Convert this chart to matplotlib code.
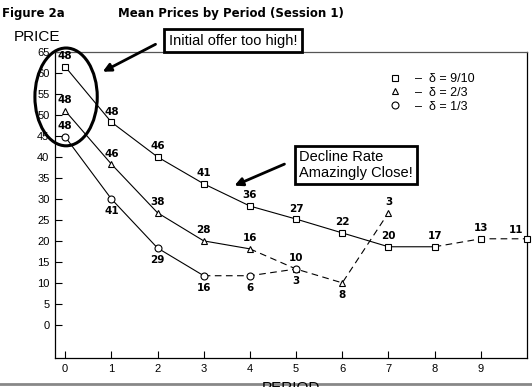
import matplotlib.pyplot as plt
from matplotlib.lines import Line2D
from matplotlib.patches import Ellipse

# mean prices per period, labels = number of observations
periods_sq = [0, 1, 2, 3, 4, 5, 6, 7, 8, 9, 10]
price_sq = [61.5, 48.3, 40.0, 33.6, 28.3, 25.2, 21.9, 18.6, 18.6, 20.5, 20.5]
n_sq = [48, 48, 46, 41, 36, 27, 22, 20, 17, 13, 11]
solid_sq = 8   # solid up to this index, dashed after

periods_tr = [0, 1, 2, 3, 4, 5, 6, 7]
price_tr = [51.0, 38.3, 26.7, 20.0, 18.1, 13.3, 10.0, 26.7]
n_tr = [48, 46, 38, 28, 16, 10, 8, 3]
solid_tr = 4
below_tr = [6]

periods_ci = [0, 1, 2, 3, 4, 5]
price_ci = [44.8, 30.0, 18.3, 11.7, 11.7, 13.3]
n_ci = [48, 41, 29, 16, 6, 3]
solid_ci = 3
above_ci = [0]

legend_labels = ["–  δ = 9/10", "–  δ = 2/3", "–  δ = 1/3"]
yticks = list(range(0, 70, 5))
xticks = list(range(0, 10))

plt.rcParams['font.family'] = ['Liberation Sans', 'DejaVu Sans']

fig = plt.figure(figsize=(5.32, 3.87), dpi=100)
ax = fig.add_axes([55 / 532, 1 - 358 / 387, 472 / 532, 306 / 387])

lab_font = dict(family='DejaVu Sans', fontweight='bold', fontsize=7.5)


def draw(xs, ys, ns, cut, marker, below=(), above=None):
    ax.plot(xs[:cut + 1], ys[:cut + 1], color='black', lw=0.8, zorder=2)
    ax.plot(xs[cut:], ys[cut:], color='black', lw=0.8, dashes=(6, 4), zorder=2)
    ax.plot(xs, ys, linestyle='none', marker=marker, ms=5, mfc='white',
            mec='black', mew=0.8, zorder=3, clip_on=False)
    for i, (x, y, n) in enumerate(zip(xs, ys, ns)):
        if above is not None:
            down = i not in above
        else:
            down = i in below
        if down:
            ax.annotate(str(n), (x, y), xytext=(0, -5), textcoords='offset points',
                        ha='center', va='top', **lab_font)
        elif x >= 10:
            # last point sits on the frame: label goes to its left
            ax.annotate(str(n), (x, y), xytext=(-3, 3), textcoords='offset points',
                        ha='right', va='bottom', **lab_font)
        else:
            ax.annotate(str(n), (x, y), xytext=(0, 4), textcoords='offset points',
                        ha='center', va='bottom', **lab_font)


draw(periods_sq, price_sq, n_sq, solid_sq, 's')
draw(periods_tr, price_tr, n_tr, solid_tr, '^', below=below_tr)
draw(periods_ci, price_ci, n_ci, solid_ci, 'o', above=above_ci)

ax.set_xlim(-0.22, 10)
ax.set_ylim(-7.9, 65)
ax.set_xticks(xticks)
ax.set_yticks(yticks)
ax.tick_params(direction='in', length=5, width=0.8, labelsize=8, pad=4)
for s in ax.spines.values():
    s.set_linewidth(0.9)
ax.spines['top'].set_color('#555555')

# legend
handles = [Line2D([], [], linestyle='none', marker=m, ms=5, mfc='white',
                  mec='black', mew=0.8) for m in ['s', '^', 'o']]
ax.legend(handles, legend_labels, loc='upper left', bbox_to_anchor=(0.675, 0.96),
          frameon=False, fontsize=9, handletextpad=0.6, labelspacing=0.15,
          borderpad=0.2)

# ellipse around the period-0 values
ax.add_patch(Ellipse((0.02, 54.3), 1.35, 23.3, fill=False, lw=2.2,
                     ec='black', clip_on=False, zorder=4))

# callouts
fig.text(233 / 532, 1 - 40.5 / 387, "Initial offer too high!", ha='center', va='center',
         fontsize=10.5, bbox=dict(boxstyle='square,pad=0.3', fc='white', ec='black', lw=2))
ax.annotate('', xy=(0.76, 60), xytext=(158 / 532, 1 - 43 / 387),
            textcoords='figure fraction',
            arrowprops=dict(arrowstyle='-|>', lw=2, color='black', mutation_scale=12))

fig.text(356 / 532, 1 - 165 / 387, "Decline Rate\nAmazingly Close!", ha='center',
         va='center', multialignment='left', fontsize=10.5, linespacing=1.1,
         bbox=dict(boxstyle='square,pad=0.3', fc='white', ec='black', lw=2))
ax.annotate('', xy=(3.61, 32.9), xytext=(287 / 532, 1 - 163 / 387),
            textcoords='figure fraction',
            arrowprops=dict(arrowstyle='-|>', lw=2, color='black', mutation_scale=12))

# titles
fig.text(2 / 532, 1 - 14 / 387, "Figure 2a", family='DejaVu Sans', fontweight='bold',
         fontsize=8.5, va='center')
fig.text(118 / 532, 1 - 14 / 387, "Mean Prices by Period (Session 1)", family='DejaVu Sans',
         fontweight='bold', fontsize=8.5, va='center')
fig.text(14 / 532, 1 - 37 / 387, "PRICE", fontsize=11, va='center')

fig.text(291 / 532, 1 - 381 / 387, "PERIOD", fontsize=11, ha='center', va='top')
fig.add_artist(Line2D([0, 1], [3 / 387, 3 / 387], transform=fig.transFigure,
                      color='#888888', lw=2))

fig.savefig('out.png', dpi=100)
